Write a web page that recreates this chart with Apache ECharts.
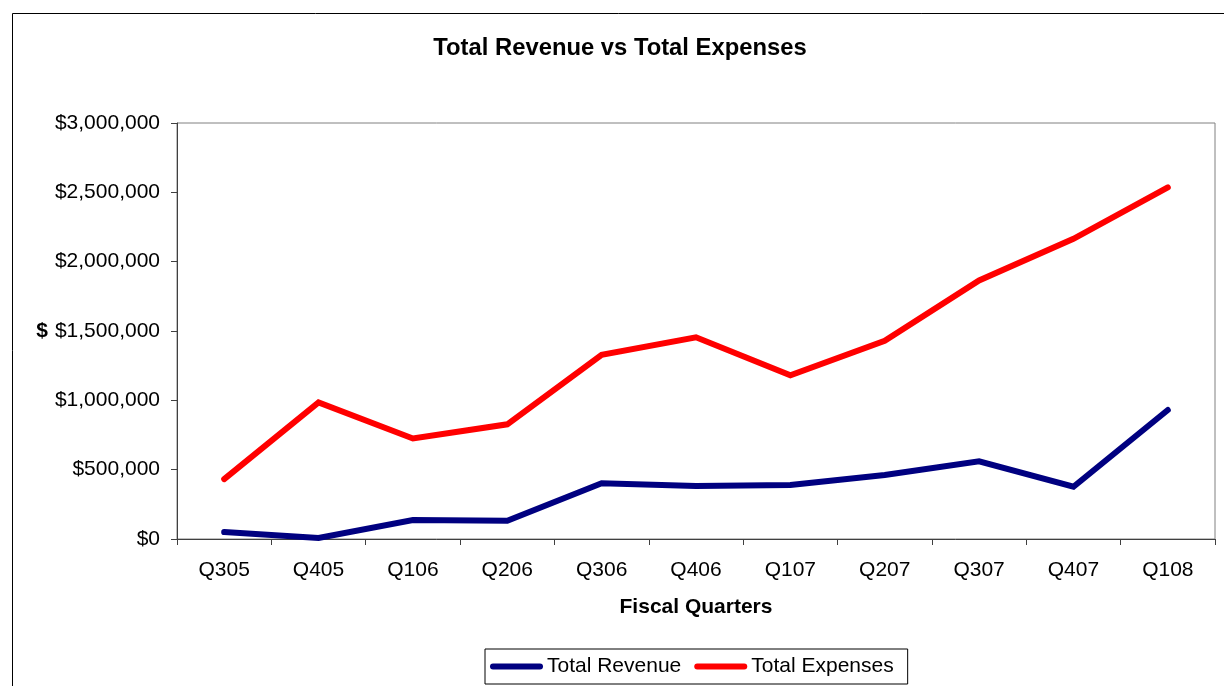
<!DOCTYPE html>
<html>
<head>
<meta charset="utf-8">
<script src="https://cdn.jsdelivr.net/npm/echarts@6/dist/echarts.min.js"></script>
<style>
  html, body { margin: 0; padding: 0; background: #fff; }
  #chart { width: 1224px; height: 686px; }
</style>
</head>
<body>
<div id="chart"></div>
<script>
// Fiscal quarters and their totals (USD)
const quarters = ['Q305', 'Q405', 'Q106', 'Q206', 'Q306', 'Q406', 'Q107', 'Q207', 'Q307', 'Q407', 'Q108'];
const totalRevenue = [50000, 8000, 137000, 132000, 402000, 382000, 389000, 462000, 560000, 377000, 930000];
const totalExpenses = [432000, 985000, 725000, 827000, 1328000, 1455000, 1180000, 1430000, 1865000, 2165000, 2535000];
const yTicks = { min: 0, max: 3000000, interval: 500000 };

const FONT = '"Liberation Sans", Arial, sans-serif';
// capsule-shaped legend marker (thick line with round ends)
const capsule = 'path://M3,0 L50,0 A3,3 0 0 1 50,6 L3,6 A3,3 0 0 1 3,0 Z';

const chart = echarts.init(document.getElementById('chart'), null, { renderer: 'canvas' });

chart.setOption({
  animation: false,
  backgroundColor: '#ffffff',
  textStyle: { fontFamily: FONT },
  title: {
    text: 'Total Revenue vs Total Expenses',
    left: 620,
    textAlign: 'center',
    top: 36,
    padding: 0,
    textStyle: { fontFamily: FONT, fontSize: 23.8, fontWeight: 'bold', color: '#000' }
  },
  graphic: [{
    type: 'rect',
    shape: { x: 12.5, y: 13.5, width: 1400, height: 900 },
    style: { fill: 'none', stroke: '#000', lineWidth: 1 },
    silent: true,
    z: -10
  }],
  legend: {
    left: 485,
    top: 649,
    orient: 'horizontal',
    padding: [7, 14, 7, 5],
    borderColor: '#000',
    borderWidth: 1,
    itemWidth: 53,
    itemHeight: 6,
    itemGap: 13,
    textStyle: { fontFamily: FONT, fontSize: 21, color: '#000', padding: [0, 0, 0, -1] },
    data: [
      { name: 'Total Revenue', icon: capsule, itemStyle: { color: '#000080' } },
      { name: 'Total Expenses', icon: capsule, itemStyle: { color: '#ff0000' } }
    ]
  },
  grid: {
    left: 177,
    right: 9,
    top: 123,
    bottom: 147,
    show: true,
    borderColor: '#808080',
    borderWidth: 1,
    containLabel: false
  },
  xAxis: {
    type: 'category',
    data: quarters,
    boundaryGap: true,
    name: 'Fiscal Quarters',
    nameLocation: 'middle',
    nameGap: 58,
    nameTextStyle: { fontFamily: FONT, fontSize: 21, fontWeight: 'bold', color: '#000' },
    axisLine: { lineStyle: { color: '#404040', width: 1 } },
    axisTick: { show: true, alignWithLabel: false, length: 6, lineStyle: { color: '#404040' } },
    axisLabel: { margin: 21, fontFamily: FONT, fontSize: 21, color: '#000' },
    splitLine: { show: false }
  },
  yAxis: {
    type: 'value',
    min: yTicks.min,
    max: yTicks.max,
    interval: yTicks.interval,
    name: '$',
    nameLocation: 'middle',
    nameRotate: 0,
    nameGap: 129,
    nameTextStyle: { fontFamily: FONT, fontSize: 21, fontWeight: 'bold', color: '#000' },
    axisLine: { show: true, lineStyle: { color: '#404040', width: 1 } },
    axisTick: { show: true, length: 6, lineStyle: { color: '#404040' } },
    axisLabel: {
      margin: 17,
      fontFamily: FONT,
      fontSize: 21,
      color: '#000',
      formatter: v => '$' + v.toLocaleString('en-US')
    },
    splitLine: { show: false }
  },
  series: [
    {
      name: 'Total Revenue',
      type: 'line',
      data: totalRevenue,
      symbol: 'none',
      color: '#000080',
      lineStyle: { color: '#000080', width: 6, cap: 'round', join: 'miter' }
    },
    {
      name: 'Total Expenses',
      type: 'line',
      data: totalExpenses,
      symbol: 'none',
      color: '#ff0000',
      lineStyle: { color: '#ff0000', width: 6, cap: 'round', join: 'miter' }
    }
  ]
});
</script>
</body>
</html>
